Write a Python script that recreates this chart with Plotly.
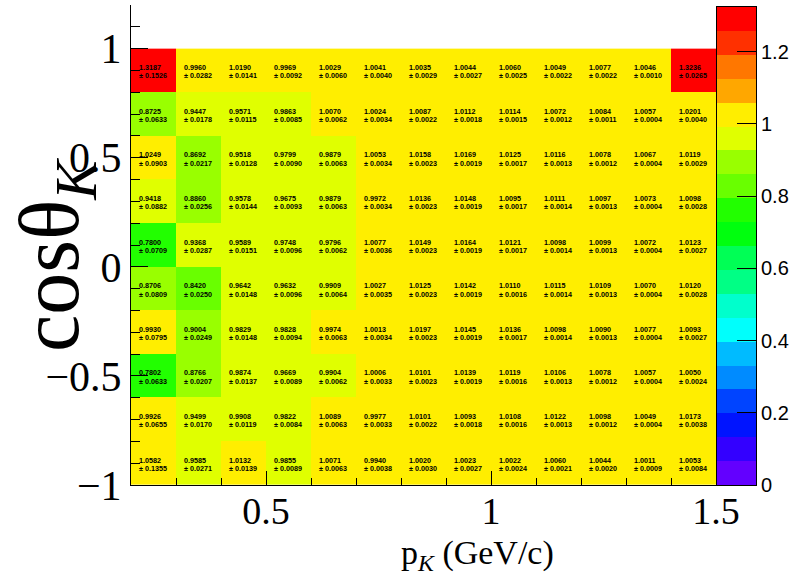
import colorsys
import plotly.graph_objects as go

# ---- data (rows listed from top cos-bin to bottom cos-bin) ----
p_centers = [0.25, 0.35, 0.45, 0.55, 0.65, 0.75, 0.85, 0.95, 1.05, 1.15, 1.25, 1.35, 1.45]
cos_centers_top_down = [0.9, 0.7, 0.5, 0.3, 0.1, -0.1, -0.3, -0.5, -0.7, -0.9]

values_top_down = [
    [1.3187, 0.9960, 1.0190, 0.9969, 1.0029, 1.0041, 1.0035, 1.0044, 1.0060, 1.0049, 1.0077, 1.0046, 1.3236],
    [0.8725, 0.9447, 0.9571, 0.9863, 1.0070, 1.0024, 1.0087, 1.0112, 1.0114, 1.0072, 1.0084, 1.0057, 1.0201],
    [1.0249, 0.8692, 0.9518, 0.9799, 0.9879, 1.0053, 1.0158, 1.0169, 1.0125, 1.0116, 1.0078, 1.0067, 1.0119],
    [0.9418, 0.8860, 0.9578, 0.9675, 0.9879, 0.9972, 1.0136, 1.0148, 1.0095, 1.0111, 1.0097, 1.0073, 1.0098],
    [0.7800, 0.9368, 0.9589, 0.9748, 0.9796, 1.0077, 1.0149, 1.0164, 1.0121, 1.0098, 1.0099, 1.0072, 1.0123],
    [0.8706, 0.8420, 0.9642, 0.9632, 0.9909, 1.0027, 1.0125, 1.0142, 1.0110, 1.0115, 1.0109, 1.0070, 1.0120],
    [0.9930, 0.9004, 0.9829, 0.9828, 0.9974, 1.0013, 1.0197, 1.0145, 1.0136, 1.0098, 1.0090, 1.0077, 1.0093],
    [0.7802, 0.8766, 0.9874, 0.9669, 0.9904, 1.0006, 1.0101, 1.0139, 1.0119, 1.0106, 1.0078, 1.0057, 1.0050],
    [0.9926, 0.9499, 0.9908, 0.9822, 1.0089, 0.9977, 1.0101, 1.0093, 1.0108, 1.0122, 1.0098, 1.0049, 1.0173],
    [1.0582, 0.9585, 1.0132, 0.9855, 1.0071, 0.9940, 1.0020, 1.0023, 1.0022, 1.0060, 1.0044, 1.0011, 1.0053],
]

errors_top_down = [
    [0.1526, 0.0282, 0.0141, 0.0092, 0.0060, 0.0040, 0.0029, 0.0027, 0.0025, 0.0022, 0.0022, 0.0010, 0.0265],
    [0.0633, 0.0178, 0.0115, 0.0085, 0.0062, 0.0034, 0.0022, 0.0018, 0.0015, 0.0012, 0.0011, 0.0004, 0.0040],
    [0.0903, 0.0217, 0.0128, 0.0090, 0.0063, 0.0034, 0.0023, 0.0019, 0.0017, 0.0013, 0.0012, 0.0004, 0.0029],
    [0.0882, 0.0256, 0.0144, 0.0093, 0.0063, 0.0034, 0.0023, 0.0019, 0.0017, 0.0014, 0.0013, 0.0004, 0.0028],
    [0.0709, 0.0287, 0.0151, 0.0096, 0.0062, 0.0036, 0.0023, 0.0019, 0.0017, 0.0014, 0.0013, 0.0004, 0.0027],
    [0.0809, 0.0250, 0.0148, 0.0096, 0.0064, 0.0035, 0.0023, 0.0019, 0.0016, 0.0014, 0.0013, 0.0004, 0.0028],
    [0.0795, 0.0249, 0.0148, 0.0094, 0.0063, 0.0034, 0.0023, 0.0019, 0.0017, 0.0014, 0.0013, 0.0004, 0.0027],
    [0.0633, 0.0207, 0.0137, 0.0089, 0.0062, 0.0033, 0.0023, 0.0019, 0.0016, 0.0013, 0.0012, 0.0004, 0.0024],
    [0.0655, 0.0170, 0.0119, 0.0084, 0.0063, 0.0033, 0.0022, 0.0018, 0.0016, 0.0013, 0.0012, 0.0004, 0.0038],
    [0.1355, 0.0271, 0.0139, 0.0089, 0.0063, 0.0038, 0.0030, 0.0027, 0.0024, 0.0021, 0.0020, 0.0009, 0.0084],
]

colorbar_ticks = [0, 0.2, 0.4, 0.6, 0.8, 1.0, 1.2]
colorbar_labels = ["0", "0.2", "0.4", "0.6", "0.8", "1", "1.2"]

Z_MIN = 0.0
Z_MAX = 1.3234
N_LEVELS = 20
N_PALETTE = 50

# ---- ROOT "pretty" palette with 20 contour levels ----
colorscale = []
for k in range(N_LEVELS):
    idx = int((k + 0.99) * N_PALETTE / N_LEVELS)
    hue = 280.0 - (idx + 1) * (280.0 / N_PALETTE)
    r, g, b = colorsys.hls_to_rgb(hue / 360.0, 0.5, 1.0)
    c = "rgb(%d,%d,%d)" % (round(r * 255), round(g * 255), round(b * 255))
    colorscale.append([k / N_LEVELS, c])
    colorscale.append([(k + 1) / N_LEVELS, c])

# palette-axis level edges (for the colour bar strip)
level_step = (Z_MAX - Z_MIN) / N_LEVELS
level_edges = [Z_MIN + k * level_step for k in range(N_LEVELS + 1)]
level_mids = [[Z_MIN + (k + 0.5) * level_step] for k in range(N_LEVELS)]

cos_centers = cos_centers_top_down[::-1]
values = values_top_down[::-1]
errors = errors_top_down[::-1]

fig = go.Figure()
fig.add_trace(go.Heatmap(
    x=p_centers, y=cos_centers, z=values,
    zmin=Z_MIN, zmax=Z_MAX, colorscale=colorscale,
    showscale=False, hoverinfo="skip",
))
# colour bar drawn as its own strip so that it sits exactly as in ROOT
fig.add_trace(go.Heatmap(
    x=[0, 1], y=level_edges, z=level_mids,
    zmin=Z_MIN, zmax=Z_MAX, colorscale=colorscale,
    showscale=False, hoverinfo="skip",
    xaxis="x2", yaxis="y2",
))

annotations = []
cell_font = dict(family="Liberation Sans", size=7.2, color="black")
for i, yc in enumerate(cos_centers):
    for j, xc in enumerate(p_centers):
        annotations.append(dict(
            x=xc, y=yc, xref="x", yref="y",
            text="<b>%.4f</b>" % values[i][j],
            showarrow=False, xanchor="left", yanchor="middle",
            xshift=-16, yshift=3.0, borderpad=0, font=cell_font,
        ))
        annotations.append(dict(
            x=xc, y=yc, xref="x", yref="y",
            text="<b>± %.4f</b>" % errors[i][j],
            showarrow=False, xanchor="left", yanchor="middle",
            xshift=-16, yshift=-5.4, borderpad=0, font=cell_font,
        ))

PW = 668.0  # paper width in px (799 - left margin)
PH = 480.0
annotations.append(dict(
    x=(477 - 131) / PW, y=(485 - 555) / PH, xref="paper", yref="paper",
    text="p<sub><i>K</i></sub> (GeV/c)", showarrow=False,
    xanchor="center", yanchor="middle",
    font=dict(family="Liberation Serif", size=34, color="black"),
))
annotations.append(dict(
    x=(56 - 131) / PW, y=(485 - 255) / PH, xref="paper", yref="paper",
    text="cosθ<sub><i>K</i></sub>", showarrow=False, textangle=-90,
    xanchor="center", yanchor="middle",
    font=dict(family="Liberation Serif", size=84, color="black"),
))

fig.update_layout(
    width=799, height=580,
    margin=dict(l=131, r=0, t=5, b=95),
    paper_bgcolor="white", plot_bgcolor="white",
    annotations=annotations,
    showlegend=False,
    xaxis=dict(
        domain=[0, 585 / PW],
        range=[0.2, 1.5], tickmode="linear", tick0=0, dtick=0.5,
        ticks="inside", ticklen=14, tickcolor="black", tickwidth=1,
        minor=dict(tickmode="linear", tick0=0, dtick=0.1, ticks="inside", ticklen=7, tickcolor="black"),
        showline=True, linecolor="black", linewidth=1,
        showgrid=False, zeroline=False, automargin=False,
        ticklabelstandoff=-8,
        tickfont=dict(family="Liberation Serif", size=38, color="black"),
    ),
    yaxis=dict(
        range=[-1, 1.2], tickmode="linear", tick0=0, dtick=0.5,
        ticks="inside", ticklen=17, tickcolor="black", tickwidth=1,
        minor=dict(tickmode="linear", tick0=0, dtick=0.1, ticks="inside", ticklen=9, tickcolor="black"),
        showline=True, linecolor="black", linewidth=1,
        showgrid=False, zeroline=False, automargin=False,
        tickfont=dict(family="Liberation Serif", size=42, color="black"),
    ),
    xaxis2=dict(
        domain=[586 / PW, 625 / PW], anchor="y2",
        range=[0, 1], showticklabels=False, ticks="",
        showline=True, mirror=True, linecolor="black", linewidth=1,
        showgrid=False, zeroline=False, automargin=False,
    ),
    yaxis2=dict(
        domain=[0, 478 / PH], anchor="x2", side="right",
        range=[Z_MIN, Z_MAX],
        tickmode="array", tickvals=colorbar_ticks, ticktext=colorbar_labels,
        ticks="inside", ticklen=19, tickcolor="black", tickwidth=1,
        showline=True, mirror=True, linecolor="black", linewidth=1,
        showgrid=False, zeroline=False, automargin=False,
        tickfont=dict(family="Liberation Sans", size=20, color="black"),
    ),
)

fig.write_html("out.html", config={"displayModeBar": False},
               post_script="document.body.style.margin='0px';")
